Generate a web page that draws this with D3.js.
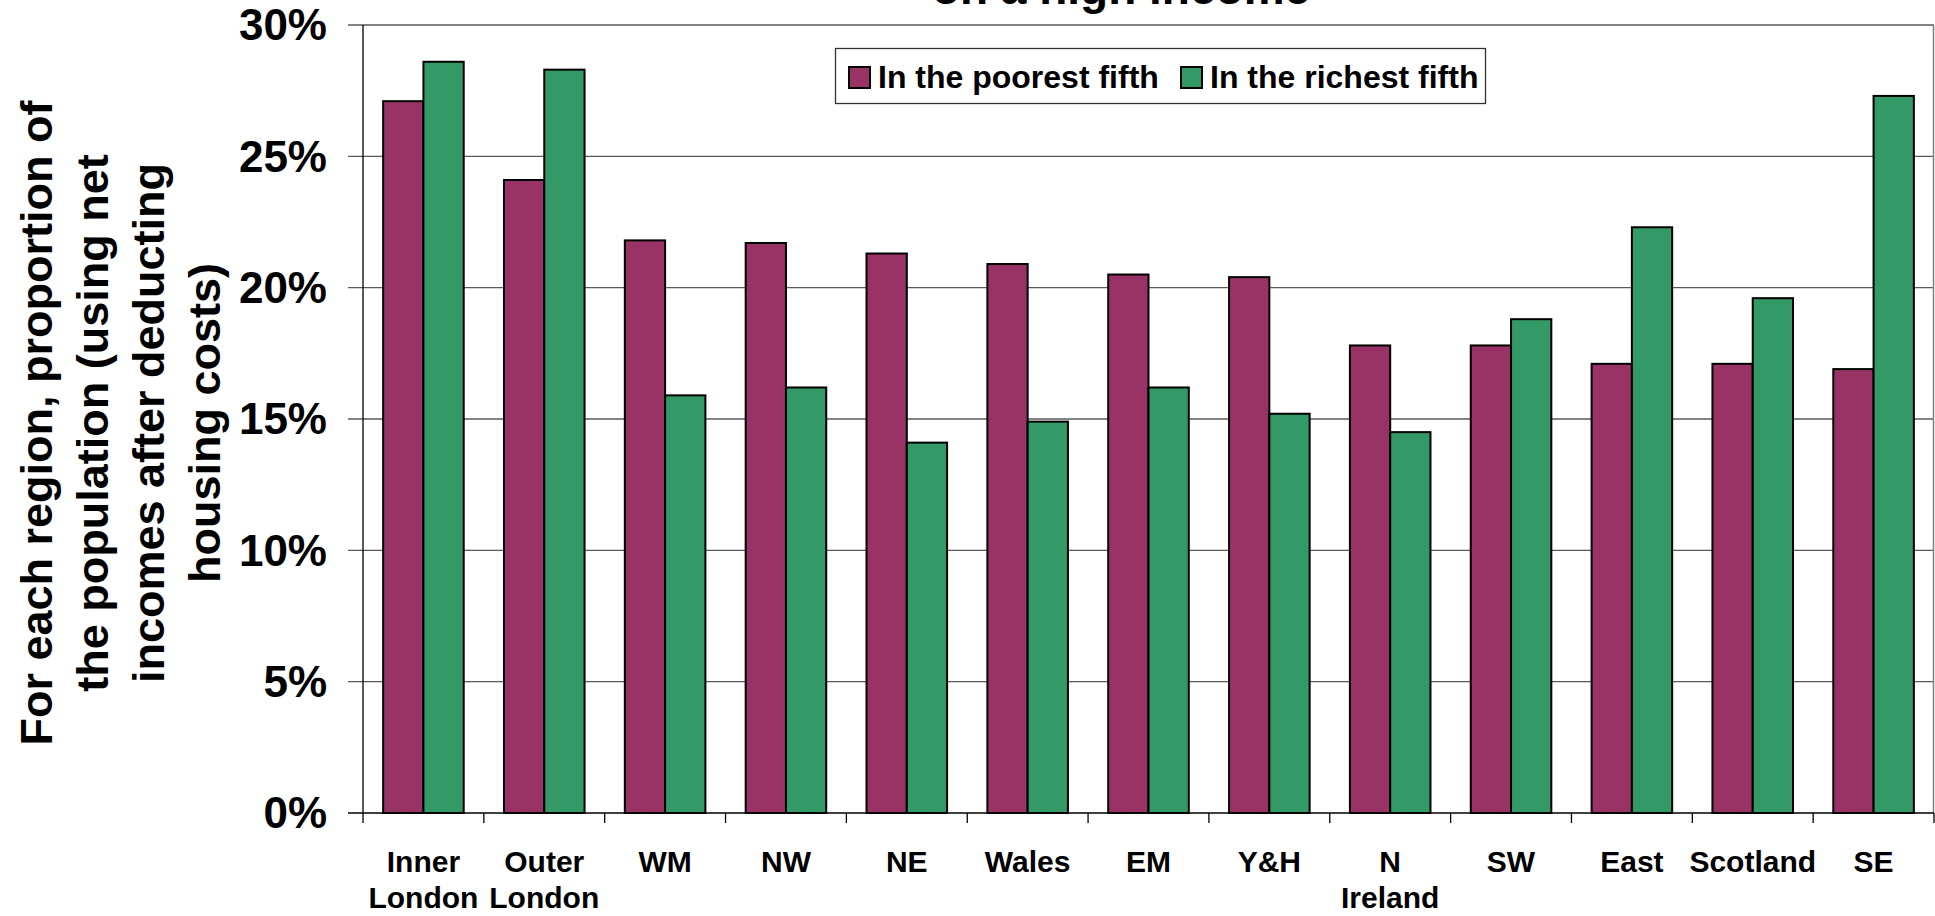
<!DOCTYPE html>
<html>
<head>
<meta charset="utf-8">
<script src="https://cdn.jsdelivr.net/npm/d3@7"></script>
<style>
  body { margin: 0; background: #fff; }
  text { font-family: "Liberation Sans", Arial, sans-serif; font-weight: bold; fill: #000; }
</style>
</head>
<body>
<div id="my_dataviz"></div>
<script>
// data
var regions = ["Inner London", "Outer London", "WM", "NW", "NE", "Wales", "EM", "Y&H", "N Ireland", "SW", "East", "Scotland", "SE"]
var poorest = [27.1, 24.1, 21.8, 21.7, 21.3, 20.9, 20.5, 20.4, 17.8, 17.8, 17.1, 17.1, 16.9]
var richest = [28.6, 28.3, 15.9, 16.2, 14.1, 14.9, 16.2, 15.2, 14.5, 18.8, 22.3, 19.6, 27.3]
var seriesNames = ["In the poorest fifth", "In the richest fifth"]
var yTicks = [0, 5, 10, 15, 20, 25, 30]
var titleText = "on a high income"
var yTitle = ["For each region, proportion of", "the population (using net", "incomes after deducting", "housing costs)"]

var colors = ["#993366", "#339966"]

var w = 1935, h = 916
// note: "top" is taken by window.top, so plot edges get their own names
var plotLeft = 363, plotRight = 1934, plotTop = 25, plotBottom = 813

var svg = d3.select("#my_dataviz")
  .append("svg").attr("width", w).attr("height", h)

var x = d3.scaleBand().domain(regions).range([plotLeft, plotRight]).padding(0)
var y = d3.scaleLinear().domain([0, 30]).range([plotBottom, plotTop])

// inner scale for the two bars inside each band
var x1 = d3.scaleBand().domain([0, 1]).range([0, x.bandwidth()]).paddingInner(0).paddingOuter(0.5)

// -----------
// grid lines
// -----------
svg.append("g")
  .selectAll("line")
  .data(yTicks.filter(function (d) { return d > 0 }))
  .enter().append("line")
  .attr("x1", plotLeft - 15).attr("x2", plotRight)
  .attr("y1", function (d) { return y(d) }).attr("y2", function (d) { return y(d) })
  .attr("stroke", "#5a5a5a").attr("stroke-width", 1.3)

// right border of plot area
svg.append("line")
  .attr("x1", plotRight - 0.5).attr("x2", plotRight - 0.5)
  .attr("y1", plotTop).attr("y2", plotBottom)
  .attr("stroke", "#808080").attr("stroke-width", 1.5)

// y tick labels
svg.append("g")
  .selectAll("text")
  .data(yTicks)
  .enter().append("text")
  .attr("x", 327)
  .attr("y", function (d) { return y(d) })
  .attr("dy", "0.35em")
  .attr("text-anchor", "end")
  .attr("font-size", "44px")
  .text(function (d) { return d + "%" })

// bars
var rows = regions.map(function (r, i) { return { region: r, vals: [poorest[i], richest[i]] } })

var groups = svg.append("g")
  .selectAll("g")
  .data(rows)
  .enter().append("g")
  .attr("transform", function (d) { return "translate(" + x(d.region) + ",0)" })

groups.selectAll("rect")
  .data(function (d) { return d.vals })
  .enter().append("rect")
  .attr("x", function (d, i) { return x1(i) })
  .attr("width", x1.bandwidth())
  .attr("y", function (d) { return y(d) })
  .attr("height", function (d) { return plotBottom - y(d) })
  .attr("fill", function (d, i) { return colors[i] })
  .attr("stroke", "#000")
  .attr("stroke-width", 2)

// axes lines
svg.append("line")
  .attr("x1", plotLeft).attr("x2", plotLeft).attr("y1", plotTop).attr("y2", plotBottom)
  .attr("stroke", "#000").attr("stroke-width", 1.3)
svg.append("line")
  .attr("x1", plotLeft - 15).attr("x2", plotRight).attr("y1", plotBottom).attr("y2", plotBottom)
  .attr("stroke", "#000").attr("stroke-width", 1.3)

// x tick marks at band edges
var edges = regions.map(function (r) { return x(r) }).concat([plotRight])
svg.append("g")
  .selectAll("line")
  .data(edges)
  .enter().append("line")
  .attr("x1", function (d) { return d }).attr("x2", function (d) { return d })
  .attr("y1", plotBottom).attr("y2", plotBottom + 10)
  .attr("stroke", "#000").attr("stroke-width", 1.3)

// x labels, wrapped on spaces
var xl = svg.append("g")
  .selectAll("text")
  .data(regions)
  .enter().append("text")
  .attr("text-anchor", "middle")
  .attr("font-size", "30px")
  .attr("x", function (d) { return x(d) + x.bandwidth() / 2 })
  .attr("y", 872)

xl.selectAll("tspan")
  .data(function (d) { return d.split(" ") })
  .enter().append("tspan")
  .attr("x", function () { return this.parentNode.getAttribute("x") })
  .attr("dy", function (d, i) { return i == 0 ? 0 : 36 })
  .text(function (d) { return d })

// y axis title
var yt = svg.append("text")
  .attr("transform", "translate(0,423) rotate(-90)")
  .attr("text-anchor", "middle")
  .attr("font-size", "45px")
yt.selectAll("tspan")
  .data(yTitle)
  .enter().append("tspan")
  .attr("x", 0)
  .attr("y", function (d, i) { return 52 + i * 56 })
  .text(function (d) { return d })

// chart title (only its bottom shows)
svg.append("text")
  .attr("x", 1121).attr("y", 4)
  .attr("text-anchor", "middle")
  .attr("font-size", "46px")
  .text(titleText)

// --------
// legend
// --------
var legend = svg.append("g")
legend.append("rect")
  .attr("x", 835.5).attr("y", 48.5).attr("width", 650).attr("height", 55)
  .attr("fill", "#fff").attr("stroke", "#333").attr("stroke-width", 1.3)

var legX = [848, 1180]
var li = legend.selectAll("g")
  .data(seriesNames)
  .enter().append("g")
  .attr("transform", function (d, i) { return "translate(" + legX[i] + ",0)" })
li.append("rect")
  .attr("x", 1).attr("y", 67).attr("width", 21).attr("height", 21)
  .attr("fill", function (d, i) { return colors[i] })
  .attr("stroke", "#000").attr("stroke-width", 2)
li.append("text")
  .attr("x", 30).attr("y", 88)
  .attr("font-size", "32px")
  .text(function (d) { return d })
</script>
</body>
</html>
